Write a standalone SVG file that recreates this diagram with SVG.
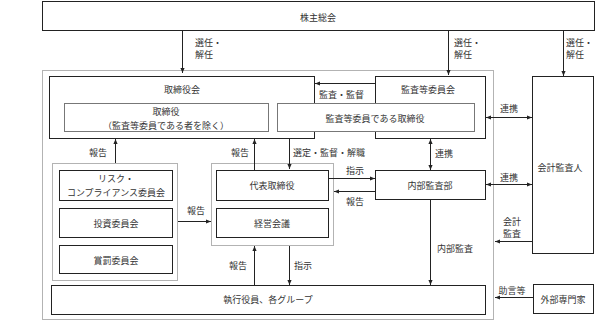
<svg xmlns="http://www.w3.org/2000/svg" width="600" height="324" viewBox="0 0 600 324">
<defs>
<marker id="ah" viewBox="0 0 6 6" markerWidth="5" markerHeight="5" refX="6" refY="3" orient="auto-start-reverse" markerUnits="userSpaceOnUse"><path d="M0,0.5 L6,3 L0,5.5 z" fill="#222"/></marker>
<style>
text{font-family:"Noto Sans CJK JP","Noto Sans",sans-serif;font-size:9px;fill:#333}
.c{text-anchor:middle}
.box{fill:#fff;stroke:#222;stroke-width:1}
.inner{fill:#fff;stroke:#777;stroke-width:1}
.grp{fill:none;stroke:#666;stroke-width:1;stroke-dasharray:1 1}
.ln{stroke:#222;stroke-width:1;fill:none}
.a{marker-end:url(#ah)}
.d{marker-start:url(#ah);marker-end:url(#ah)}
</style>
</defs>
<rect width="600" height="324" fill="#fff"/>

<g id="outer-group"><rect class="grp" x="42.5" y="70.5" width="451" height="249"/></g>
<g id="committee-group"><rect class="grp" x="52.5" y="163.5" width="125" height="117"/></g>
<g id="exec-group"><rect class="grp" x="211.5" y="163.5" width="122" height="82"/></g>

<g id="shareholders"><rect class="box" x="42.5" y="1.5" width="552" height="29"/><text class="c" x="318" y="21">株主総会</text></g>

<g id="board"><rect class="box" x="49.5" y="76.5" width="265" height="62"/><text class="c" x="182" y="93">取締役会</text></g>
<g id="audit-committee"><rect class="box" x="375.5" y="76.5" width="110" height="62"/><text class="c" x="428" y="93">監査等委員会</text></g>
<g id="directors"><rect class="inner" x="64.5" y="103.5" width="204" height="28"/><text class="c" x="166" y="115">取締役</text><text class="c" x="166" y="129">（監査等委員である者を除く）</text></g>
<g id="audit-directors"><rect class="inner" x="277.5" y="103.5" width="197" height="28"/><text class="c" x="375" y="122">監査等委員である取締役</text></g>

<g id="risk"><rect class="box" x="59.5" y="170.5" width="113" height="30"/><text class="c" x="116" y="182">リスク・</text><text class="c" x="116" y="196">コンプライアンス委員会</text></g>
<g id="invest"><rect class="box" x="59.5" y="208.5" width="113" height="29"/><text class="c" x="116" y="227">投資委員会</text></g>
<g id="reward"><rect class="box" x="59.5" y="245.5" width="113" height="28"/><text class="c" x="116" y="264">賞罰委員会</text></g>

<g id="ceo"><rect class="box" x="216.5" y="170.5" width="112" height="30"/><text class="c" x="272" y="189">代表取締役</text></g>
<g id="mgmt"><rect class="box" x="216.5" y="208.5" width="112" height="29"/><text class="c" x="272" y="227">経営会議</text></g>

<g id="internal-audit"><rect class="box" x="375.5" y="170.5" width="110" height="29"/><text class="c" x="430" y="189">内部監査部</text></g>
<g id="auditor"><rect class="box" x="532.5" y="76.5" width="61" height="177"/><text class="c" x="560" y="171">会計監査人</text></g>
<g id="exec"><rect class="box" x="51.5" y="285.5" width="434" height="29"/><text class="c" x="268" y="303">執行役員、各グループ</text></g>
<g id="experts"><rect class="box" x="533.5" y="284.5" width="60" height="29"/><text class="c" x="563" y="303">外部専門家</text></g>

<g id="connectors">
<line class="ln a" x1="182.5" y1="31" x2="182.5" y2="73"/>
<line class="ln a" x1="448.5" y1="31" x2="448.5" y2="75"/>
<line class="ln a" x1="563.5" y1="31" x2="563.5" y2="76"/>
<line class="ln a" x1="375" y1="83.5" x2="315" y2="83.5"/>
<line class="ln a" x1="115.5" y1="163" x2="115.5" y2="139"/>
<line class="ln a" x1="254.5" y1="170" x2="254.5" y2="139"/>
<line class="ln a" x1="289.5" y1="139" x2="289.5" y2="169"/>
<line class="ln d" x1="430.5" y1="139" x2="430.5" y2="170"/>
<line class="ln a" x1="329" y1="178.5" x2="375" y2="178.5"/>
<line class="ln a" x1="375" y1="191.5" x2="334" y2="191.5"/>
<line class="ln d" x1="486" y1="117.5" x2="532" y2="117.5"/>
<line class="ln d" x1="486" y1="184.5" x2="532" y2="184.5"/>
<line class="ln a" x1="532" y1="241.5" x2="495" y2="241.5"/>
<line class="ln a" x1="430.5" y1="200" x2="430.5" y2="285"/>
<line class="ln a" x1="254.5" y1="285" x2="254.5" y2="246"/>
<line class="ln a" x1="289.5" y1="246" x2="289.5" y2="285"/>
<line class="ln a" x1="178" y1="221.5" x2="211" y2="221.5"/>
<line class="ln a" x1="533" y1="297.5" x2="495" y2="297.5"/>
</g>

<g id="labels">
<text x="195" y="46">選任・</text><text x="195" y="58">解任</text>
<text x="454" y="46">選任・</text><text x="454" y="58">解任</text>
<text x="566" y="46">選任・</text><text x="566" y="58">解任</text>
<text x="319" y="98">監査・監督</text>
<text class="c" x="98" y="156">報告</text>
<text class="c" x="240" y="156">報告</text>
<text x="293" y="156">選定・監督・解職</text>
<text x="435" y="157">連携</text>
<text class="c" x="196" y="214">報告</text>
<text class="c" x="355" y="174">指示</text>
<text class="c" x="355" y="205">報告</text>
<text class="c" x="509" y="112">連携</text>
<text class="c" x="509" y="181">連携</text>
<text class="c" x="512" y="225">会計</text><text class="c" x="512" y="237">監査</text>
<text class="c" x="455" y="252">内部監査</text>
<text class="c" x="238" y="269">報告</text>
<text class="c" x="303" y="269">指示</text>
<text class="c" x="512" y="294">助言等</text>
</g>
</svg>
